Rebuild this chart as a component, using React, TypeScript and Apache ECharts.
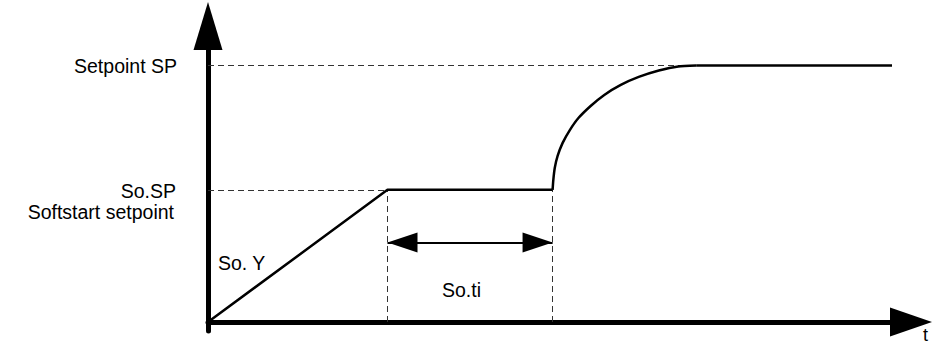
import React, { useEffect, useRef } from "react";
import * as echarts from "echarts";

// ---- data (abstract units: time on x, setpoint level on y) ----
const rampX = [0, 25, 48];
const rampY = [0, 51.5, 51.5];
const curveX = [48, 48.1, 48.3, 48.7, 49.4, 50.4, 51.6, 53.3, 55.2, 57.5, 60, 62.8, 65.5, 68];
const curveY = [51.5, 55.3, 60, 64.7, 69.8, 74.8, 79.5, 84.2, 88.5, 92.4, 95.5, 98, 99.6, 100];
const holdX = [68, 101.5];
const holdY = [100, 100];
const setpointSP = 100;
const softSP = 51.5;
const soTiStart = 25;
const soTiEnd = 48;
const soTiLevel = 31;
const spDashEnd = 68;

const labels = {
  sp: "Setpoint SP",
  soSp: "So.SP",
  soft: "Softstart setpoint",
  soY: "So. Y",
  soTi: "So.ti",
  t: "t",
};

const zip = (xs: number[], ys: number[]) => xs.map((x, i) => [x, ys[i]]);

const FONT = "'Liberation Sans', Arial, sans-serif";

export default function App() {
  const ref = useRef<HTMLDivElement>(null);
  useEffect(() => {
    const chart = echarts.init(ref.current!, null, { renderer: "svg" });
    const txt = (t: string, x: number, y: number, align: string, size = 19.5) => ({
      type: "text",
      x,
      y,
      style: {
        text: t,
        fill: "#000",
        font: `${size}px ${FONT}`,
        align,
        verticalAlign: "middle",
      },
    });
    const dash = { color: "#333", width: 1, type: [6, 4] as any };
    chart.setOption({
      animation: false,
      grid: { left: 208, right: 45, top: 50, bottom: 16 },
      xAxis: {
        type: "value",
        min: 0,
        max: 95,
        axisLine: {
          onZero: true,
          lineStyle: { color: "#000", width: 5 },
          symbol: ["none", "triangle"],
          symbolSize: [29, 42],
          symbolOffset: [0, 21],
        },
        axisTick: { show: false },
        axisLabel: { show: false },
        splitLine: { show: false },
      },
      yAxis: {
        type: "value",
        min: -3.5,
        max: 106,
        axisLine: {
          show: true,
          onZero: true,
          lineStyle: { color: "#000", width: 5 },
          symbol: ["none", "triangle"],
          symbolSize: [29, 48],
          symbolOffset: [0, 24],
        },
        axisTick: { show: false },
        axisLabel: { show: false },
        splitLine: { show: false },
      },
      series: [
        {
          type: "line",
          data: zip(rampX, rampY),
          symbol: "none",
          lineStyle: { color: "#000", width: 2.5 },
          z: 5,
          markLine: {
            silent: true,
            symbol: "none",
            label: { show: false },
            lineStyle: dash,
            data: [
              [{ coord: [0, setpointSP] }, { coord: [spDashEnd, setpointSP] }],
              [{ coord: [0, softSP] }, { coord: [soTiStart, softSP] }],
              [{ coord: [soTiStart, 0] }, { coord: [soTiStart, softSP] }],
              [{ coord: [soTiEnd, 0] }, { coord: [soTiEnd, softSP] }],
            ],
          },
        },
        {
          type: "line",
          data: zip(curveX, curveY),
          symbol: "none",
          smooth: 0.2,
          lineStyle: { color: "#000", width: 2.5 },
          z: 5,
        },
        {
          type: "line",
          data: zip(holdX, holdY),
          symbol: "none",
          clip: false,
          lineStyle: { color: "#000", width: 2.5 },
          z: 5,
          markLine: {
            silent: true,
            symbol: ["triangle", "triangle"],
            symbolSize: [20, 30],
            symbolOffset: [[0, 15], [0, 15]],
            label: { show: false },
            lineStyle: { color: "#000", width: 2, type: "solid" },
            itemStyle: { color: "#000" },
            data: [[{ coord: [soTiStart, soTiLevel] }, { coord: [soTiEnd, soTiLevel] }]],
          },
        },
      ],
      graphic: [
        txt(labels.sp, 177, 66, "right"),
        txt(labels.soSp, 176, 191, "right"),
        txt(labels.soft, 174, 212, "right"),
        txt(labels.soY, 218, 263, "left"),
        txt(labels.soTi, 442, 290, "left"),
        txt(labels.t, 923, 335, "left", 18),
      ],
    });
    return () => chart.dispose();
  }, []);
  return (
    <div
      ref={ref}
      style={{ position: "fixed", left: 0, top: 0, width: 935, height: 347, background: "#fff" }}
    />
  );
}
